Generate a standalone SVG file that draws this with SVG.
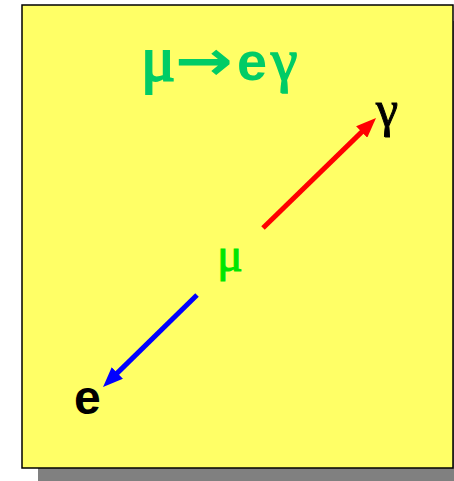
<svg xmlns="http://www.w3.org/2000/svg" width="454" height="481" viewBox="0 0 454 481">
  <style>
    .greek { font-family: "Liberation Serif", "Times New Roman", serif; }
    .latin { font-family: "Liberation Sans", Arial, sans-serif; font-weight: bold; }
    .conn { stroke-width: 5; fill: none; stroke-linecap: butt; }
  </style>
  <defs>
    <marker id="headRed" markerUnits="userSpaceOnUse" markerWidth="20" markerHeight="16" refX="2" refY="8" orient="auto">
      <path d="M0,0 L20,8 L0,16 z" fill="#FF0000"/>
    </marker>
    <marker id="headBlue" markerUnits="userSpaceOnUse" markerWidth="20" markerHeight="16" refX="2" refY="8" orient="auto">
      <path d="M0,0 L20,8 L0,16 z" fill="#0000FF"/>
    </marker>
  </defs>
  <rect x="38" y="21" width="431" height="463" fill="#808080"/>
  <rect x="22" y="5" width="431" height="463" fill="#FFFF66" stroke="#000000" stroke-width="1.5"/>
  <g id="title" fill="#00CC66">
    <text class="greek" x="141" y="80" font-size="64" stroke="#00CC66" stroke-width="2">μ</text>
    <text x="175" y="80" font-family="DejaVu Sans, sans-serif" font-size="56" font-weight="bold" textLength="58" lengthAdjust="spacingAndGlyphs">→</text>
    <text class="latin" x="237" y="80" font-size="54">e</text>
    <text class="greek" x="271" y="80" font-size="60" stroke="#00CC66" stroke-width="1.5">γ</text>
  </g>
  <g id="muon">
    <text class="greek" x="217" y="271" font-size="48" fill="#00E600" stroke="#00E600" stroke-width="1">μ</text>
  </g>
  <g id="gamma">
    <text class="greek" x="376" y="126" font-size="50" fill="#000000" stroke="#000000" stroke-width="1">γ</text>
  </g>
  <g id="electron">
    <text class="latin" x="74" y="414" font-size="48" fill="#000000">e</text>
  </g>
  <g id="connectors">
    <line class="conn" x1="263" y1="228" x2="363.1" y2="130.6" stroke="#FF0000" marker-end="url(#headRed)"/>
    <line class="conn" x1="197" y1="295" x2="115.9" y2="374.4" stroke="#0000FF" marker-end="url(#headBlue)"/>
  </g>
</svg>
